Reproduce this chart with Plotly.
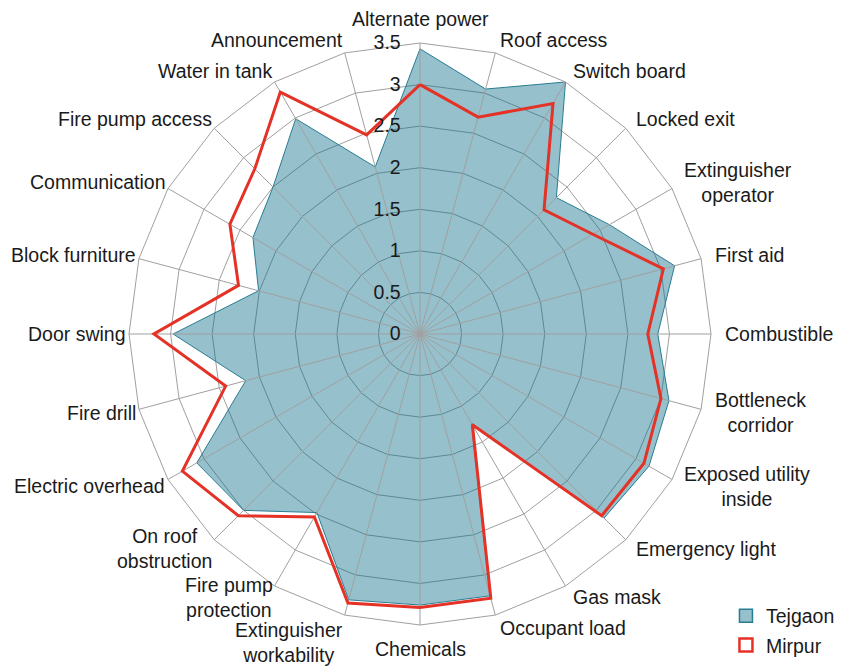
import math
import plotly.graph_objects as go

categories = [
    "Alternate power", "Roof access", "Switch board", "Locked exit",
    "Extinguisher<br>operator", "First aid", "Combustible",
    "Bottleneck<br>corridor", "Exposed utility<br>inside", "Emergency light",
    "Gas mask", "Occupant load", "Chemicals", "Extinguisher<br>workability",
    "Fire pump<br>protection", "On roof<br>obstruction", "Electric overhead",
    "Fire drill", "Door swing", "Block furniture", "Communication",
    "Fire pump access", "Water in tank", "Announcement",
]

tejgaon = [3.43, 3.05, 3.50, 2.32, 2.63, 3.17, 2.86, 3.10, 3.18, 3.13, 1.24, 3.26,
           3.26, 3.31, 2.48, 3.00, 3.10, 2.17, 2.97, 2.01, 2.32, 2.50, 2.99, 2.08]
mirpur = [3.00, 2.70, 3.20, 2.11, 2.40, 3.03, 2.74, 3.00, 3.11, 3.09, 1.26, 3.29,
          3.29, 3.35, 2.54, 3.09, 3.30, 2.42, 3.20, 2.26, 2.64, 2.81, 3.36, 2.48]

radial_ticks = [0, 0.5, 1, 1.5, 2, 2.5, 3, 3.5]
radial_max = 3.5

FONT = "Liberation Sans, Arial, Helvetica, sans-serif"
FS = 19.5
TXT = "#1a1a1a"
GRID = "rgb(160,160,160)"

# layout geometry (plot area is a square; page has an 8px body margin)
ML, MT, SIDE = 121, 35, 582
W, H = 842, 666

fig = go.Figure()

fig.add_trace(go.Scatterpolar(
    r=tejgaon + tejgaon[:1], theta=categories + categories[:1],
    mode="lines", fill="toself",
    fillcolor="rgba(0,101,130,0.41)",
    line=dict(color="rgb(40,125,145)", width=1),
    name="Tejgaon", showlegend=False, hoverinfo="skip",
))

# spokes drawn above the fill
for c in categories:
    fig.add_trace(go.Scatterpolar(
        r=[0, radial_max], theta=[c, c], mode="lines",
        line=dict(color=GRID, width=1), showlegend=False, hoverinfo="skip",
    ))

fig.add_trace(go.Scatterpolar(
    r=mirpur + mirpur[:1], theta=categories + categories[:1],
    mode="lines", line=dict(color="rgb(228,50,38)", width=3),
    name="Mirpur", showlegend=False, hoverinfo="skip",
))

# legend entries (square symbols)
fig.add_trace(go.Scatterpolar(
    r=[None], theta=[categories[0]], mode="markers", name="Tejgaon",
    marker=dict(symbol="square", size=13, color="rgb(150,192,204)",
                line=dict(color="rgb(40,125,145)", width=1.5)),
    legendgroup="a",
))
fig.add_trace(go.Scatterpolar(
    r=[None], theta=[categories[0]], mode="markers", name="Mirpur",
    marker=dict(symbol="square", size=13, color="white",
                line=dict(color="rgb(228,50,38)", width=2.5)),
    legendgroup="b",
))

# category labels placed around the outer polygon
cx, cy, R = ML + SIDE / 2, MT + SIDE / 2, SIDE / 2
annotations = []
n = len(categories)
for i, lab in enumerate(categories):
    a = math.radians(90 - 360.0 * i / n)
    co, si = math.cos(a), math.sin(a)
    vx, vy = cx + R * co, cy - R * si
    multi = "<br>" in lab
    if abs(co) < 0.1:
        xa = "center"
        px = vx
    elif co > 0:
        xa = "left"
        px = vx + 13 * co
    else:
        xa = "right"
        px = vx + 2 * co
    if si > 0.99:
        ya, py = "bottom", vy - 12
    elif si < -0.99:
        ya, py = "top", vy + 12
    elif multi and si < -0.9:
        ya, py = "top", vy - 12 * si - 9
    else:
        ya, py = "middle", vy - 13 * si
    annotations.append(dict(
        text=lab, x=(px - ML) / SIDE, y=1 - (py - MT) / SIDE,
        xref="paper", yref="paper", xanchor=xa, yanchor=ya,
        align="center", showarrow=False, borderpad=0,
        font=dict(family=FONT, size=FS, color=TXT),
    ))

fig.update_layout(
    width=W, height=H,
    margin=dict(l=ML, r=W - ML - SIDE, t=MT, b=H - MT - SIDE, autoexpand=False),
    paper_bgcolor="white",
    font=dict(family=FONT, size=FS, color=TXT),
    annotations=annotations,
    polar=dict(
        bgcolor="white",
        gridshape="linear",
        angularaxis=dict(
            direction="clockwise", rotation=90,
            showgrid=False, showline=True, linecolor=GRID, linewidth=1,
            ticks="", showticklabels=False,
            categoryorder="array", categoryarray=categories,
        ),
        radialaxis=dict(
            range=[0, radial_max], tickvals=radial_ticks,
            ticktext=[str(v) if v != int(v) else str(int(v)) for v in radial_ticks],
            angle=90, side="counterclockwise", tickangle=90,
            showline=False, ticks="outside", ticklen=12,
            tickcolor="rgba(0,0,0,0)",
            gridcolor=GRID, gridwidth=1,
            tickfont=dict(size=FS, family=FONT, color=TXT),
        ),
    ),
    legend=dict(x=1.0257, xanchor="left", y=-0.068, yanchor="bottom",
                font=dict(size=FS, family=FONT, color=TXT),
                tracegroupgap=1, bgcolor="rgba(0,0,0,0)"),
)

fig.write_html("out.html")
